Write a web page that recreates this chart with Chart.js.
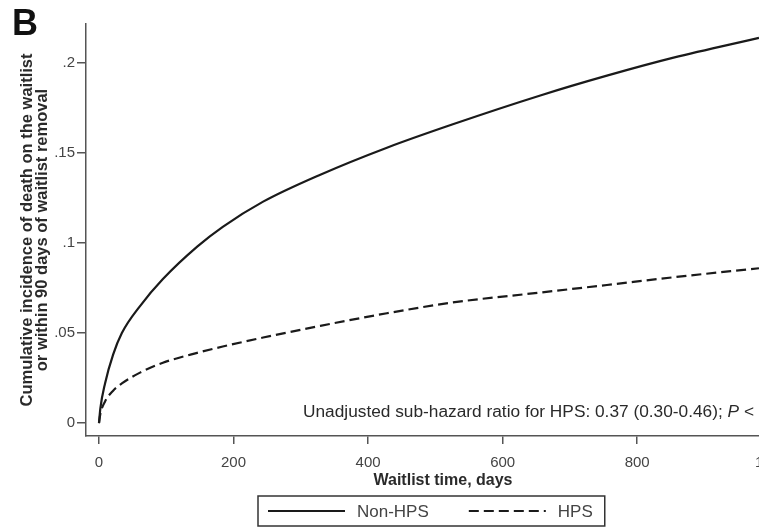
<!DOCTYPE html>
<html>
<head>
<meta charset="utf-8">
<script src="https://cdn.jsdelivr.net/npm/chart.js@4/dist/chart.umd.min.js"></script>
<style>
  html, body { margin: 0; padding: 0; background: #fff; width: 759px; height: 527px; overflow: hidden; }
  #wrap { position: relative; width: 810px; height: 527px; }
</style>
</head>
<body>
<div id="wrap"><canvas id="c" width="810" height="527"></canvas></div>
<script>
// Cumulative incidence curves (waitlist days vs. incidence)
const days   = [0, 2, 9, 21, 34, 61, 95, 146, 184, 244, 329, 428, 526, 656, 755, 854, 981];
const nonHps = [0, 0.008, 0.022, 0.038, 0.050, 0.065, 0.080, 0.098, 0.109, 0.123, 0.138, 0.153, 0.166, 0.182, 0.193, 0.203, 0.214];
const hps    = [0, 0.005, 0.012, 0.018, 0.022, 0.028, 0.0335, 0.039, 0.0425, 0.0475, 0.054, 0.061, 0.067, 0.0725, 0.0767, 0.081, 0.086];
const seriesLabels = ['Non-HPS', 'HPS'];

const xTickValues = [0, 200, 400, 600, 800, 1000];
const xTickLabels = ['0', '200', '400', '600', '800', '1000'];
const yTickValues = [0, 0.05, 0.1, 0.15, 0.2];
const yTickLabels = ['0', '.05', '.1', '.15', '.2'];

const panelLetter = 'B';
const xTitle = 'Waitlist time, days';
const yTitle = ['Cumulative incidence of death on the waitlist', 'or within 90 days of waitlist removal'];
const noteText = 'Unadjusted sub-hazard ratio for HPS: 0.37 (0.30-0.46); ';
const notePSymbol = 'P';
const notePValue = ' < .001';

const FONT = '"Liberation Sans", Arial, Helvetica, sans-serif';
const INK = '#2a2a2a';
const AXIS = '#555';

const toPoints = (xs, ys) => xs.map((d, i) => ({ x: d, y: ys[i] }));

// Panel letter, annotation and boxed legend
const overlay = {
  id: 'overlay',
  afterDraw(chart) {
    const ctx = chart.ctx;
    const a = chart.chartArea;
    ctx.save();

    ctx.fillStyle = '#111';
    ctx.font = 'bold 36px ' + FONT;
    ctx.textAlign = 'left';
    ctx.textBaseline = 'alphabetic';
    ctx.fillText(panelLetter, 12, 35);

    ctx.fillStyle = INK;
    ctx.textBaseline = 'middle';
    let nx = a.left + 217;
    const ny = a.bottom - 24;
    ctx.font = '17.3px ' + FONT;
    ctx.fillText(noteText, nx, ny);
    nx += ctx.measureText(noteText).width;
    ctx.font = 'italic 17.3px ' + FONT;
    ctx.fillText(notePSymbol, nx, ny);
    nx += ctx.measureText(notePSymbol).width;
    ctx.font = '17.3px ' + FONT;
    ctx.fillText(notePValue, nx, ny);

    // legend
    const boxLeft = a.left + 172;
    const boxTop = 496, boxH = 30;
    const sampleW = 77, gapText = 12, gapItem = 40, inner = 10;
    ctx.font = '17px ' + FONT;
    let lx = boxLeft + inner;
    const ly = boxTop + boxH / 2;
    chart.data.datasets.forEach((ds, i) => {
      ctx.save();
      ctx.strokeStyle = ds.borderColor;
      ctx.lineWidth = ds.borderWidth;
      ctx.setLineDash(ds.borderDash || []);
      ctx.beginPath();
      ctx.moveTo(lx, ly);
      ctx.lineTo(lx + sampleW, ly);
      ctx.stroke();
      ctx.restore();
      const tx = lx + sampleW + gapText;
      ctx.fillStyle = '#444';
      ctx.fillText(ds.label, tx, ly + 1);
      const tw = ctx.measureText(ds.label).width;
      lx = tx + tw + (i < chart.data.datasets.length - 1 ? gapItem : 0);
    });
    const boxW = lx + 12 - boxLeft;
    ctx.strokeStyle = '#333';
    ctx.lineWidth = 1.5;
    ctx.strokeRect(boxLeft, boxTop, boxW, boxH);

    ctx.restore();
  }
};

new Chart(document.getElementById('c'), {
  type: 'line',
  data: {
    datasets: [
      {
        label: seriesLabels[0],
        data: toPoints(days, nonHps),
        borderColor: '#1a1a1a',
        borderWidth: 2.2,
        pointRadius: 0,
        cubicInterpolationMode: 'monotone',
        fill: false
      },
      {
        label: seriesLabels[1],
        data: toPoints(days, hps),
        borderColor: '#1a1a1a',
        borderWidth: 2.2,
        borderDash: [10, 5],
        pointRadius: 0,
        cubicInterpolationMode: 'monotone',
        fill: false
      }
    ]
  },
  options: {
    responsive: false,
    animation: false,
    events: [],
    layout: { padding: { left: 0, right: 10, top: 24, bottom: 31 } },
    plugins: { legend: { display: false }, tooltip: { enabled: false } },
    scales: {
      x: {
        type: 'linear',
        min: -19.3,
        max: 1042,
        afterBuildTicks: s => { s.ticks = xTickValues.map(v => ({ value: v })); },
        afterFit: s => { s.height = 60; },
        ticks: {
          autoSkip: false, maxRotation: 0, padding: 10,
          font: { family: FONT, size: 15 }, color: '#444',
          callback: v => xTickLabels[xTickValues.indexOf(v)]
        },
        grid: { display: true, drawOnChartArea: false, drawTicks: true, tickLength: 8, tickColor: AXIS, lineWidth: 1.5 },
        border: { display: true, color: AXIS, width: 1.5 },
        title: {
          display: true, text: xTitle, color: INK,
          font: { family: FONT, size: 16, weight: 'bold' },
          padding: { top: 0, bottom: 6 }
        }
      },
      y: {
        type: 'linear',
        min: -0.0072,
        max: 0.2217,
        afterBuildTicks: s => { s.ticks = yTickValues.map(v => ({ value: v })); },
        afterFit: s => { s.width = 86; },
        ticks: {
          autoSkip: false, padding: 2,
          font: { family: FONT, size: 15 }, color: '#444',
          callback: v => yTickLabels[yTickValues.indexOf(v)]
        },
        grid: { display: true, drawOnChartArea: false, drawTicks: true, tickLength: 9, tickColor: AXIS, lineWidth: 1.5 },
        border: { display: true, color: AXIS, width: 1.5 },
        title: {
          display: true, text: yTitle, color: INK,
          font: { family: FONT, size: 16.5, weight: 'bold', lineHeight: 0.92 },
          padding: { top: 20, bottom: 0 }
        }
      }
    }
  },
  plugins: [overlay]
});
</script>
</body>
</html>
